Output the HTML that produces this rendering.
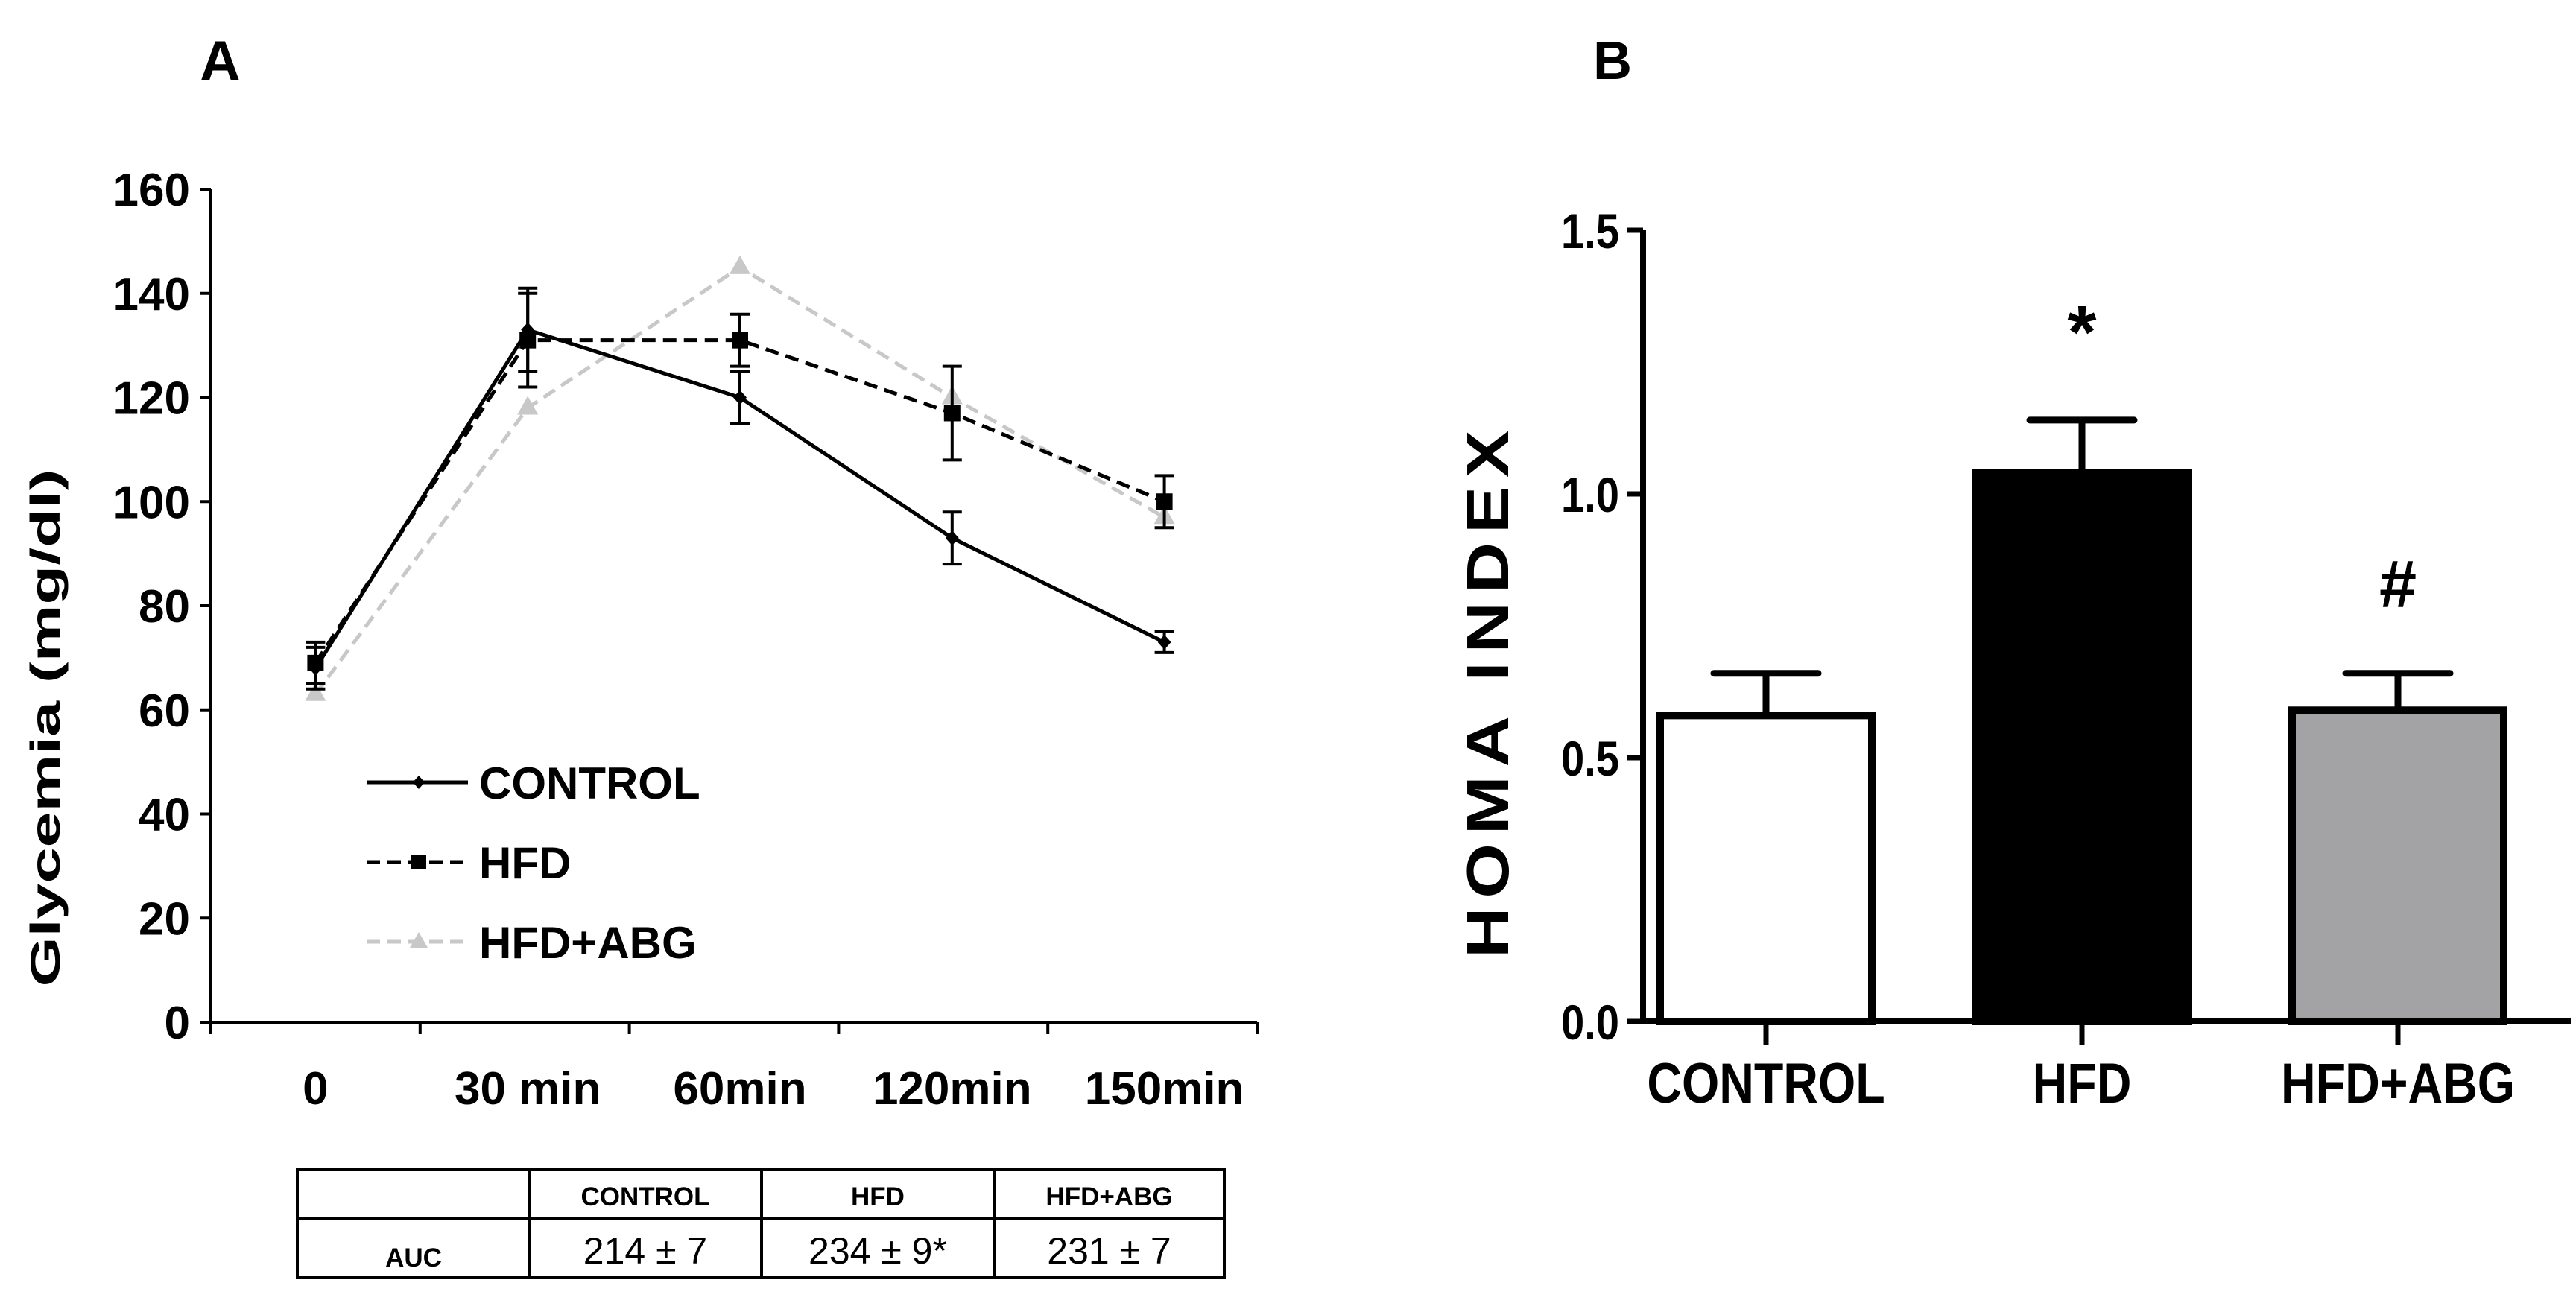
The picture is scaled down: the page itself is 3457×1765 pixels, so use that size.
<!DOCTYPE html>
<html><head><meta charset="utf-8"><style>
html,body{margin:0;padding:0;background:#fff}
svg{display:block}
text{font-family:"Liberation Sans",sans-serif}
</style></head><body>
<svg id="s" width="3457" height="1765" viewBox="0 0 3457 1765" xmlns="http://www.w3.org/2000/svg">
<text x="268" y="108" font-size="76" font-weight="bold">A</text>
<text x="2138" y="106" font-size="72" font-weight="bold">B</text>
<g id="ga"></g><g id="gb"></g>
</svg>
<script>
const NS="http://www.w3.org/2000/svg";
function mk(p,t,a,txt){const e=document.createElementNS(NS,t);for(const k in a)e.setAttribute(k,a[k]);if(txt!==undefined)e.textContent=txt;p.appendChild(e);return e;}

// Panel A data
const timeLabels=["0","30 min","60min","120min","150min"];
const yTicksA=[0,20,40,60,80,100,120,140,160];
const controlMean=[68,133,120,93,73];
const controlErr=[4,8,5,5,2];
const hfdMean=[69,131,131,117,100];
const hfdErr=[4,9,5,9,5];
const abgMean=[63,118,145,120,97];
const aucGroups=["CONTROL","HFD","HFD+ABG"];
const aucValues=["214 ± 7","234 ± 9*","231 ± 7"];

// Panel B data
const homaGroups=["CONTROL","HFD","HFD+ABG"];
const homaMean=[0.58,1.04,0.59];
const homaErr=[0.08,0.10,0.07];
const homaFill=["#ffffff","#000000","#a3a3a6"];
const homaMarks=["","*","#"];
const yTicksB=["0.0","0.5","1.0","1.5"];

const ga=document.getElementById('ga');
const ax0=283, ax1=1687, ay0=1372, ay1=254;
const yA=v=>ay0-(v/160)*(ay0-ay1);
const xA=i=>ax0+(ax1-ax0)/5*(i+0.5)+ i*4;
let e;
e=mk(ga,'line',{x1:ax0,y1:ay1,x2:ax0,y2:ay0,stroke:'#000','stroke-width':4});


e=mk(ga,'line',{x1:ax0,y1:ay0,x2:ax1,y2:ay0,stroke:'#000','stroke-width':4});


yTicksA.forEach(v=>{
 mk(ga,'line',{x1:ax0-14,y1:yA(v),x2:ax0,y2:yA(v),stroke:'#000','stroke-width':4});
 e=mk(ga,'text',{x:ax0-28,y:yA(v)+22,'font-size':62,'font-weight':'bold','text-anchor':'end'},v);
 
 
});
for(let i=0;i<=5;i++) mk(ga,'line',{x1:ax0+(ax1-ax0)/5*i,y1:ay0,x2:ax0+(ax1-ax0)/5*i,y2:ay0+16,stroke:'#000','stroke-width':4});
timeLabels.forEach((l,i)=>{
 e=mk(ga,'text',{x:xA(i),y:1482,'font-size':62,'font-weight':'bold','text-anchor':'middle'},l);
 
 
});
e=mk(ga,'text',{x:0,y:0,'font-size':56,'font-weight':'bold','text-anchor':'middle',textLength:695,lengthAdjust:'spacingAndGlyphs',transform:'translate(80,977) rotate(-90)'},'Glycemia (mg/dl)');



function series(mean,err,stroke,dash,marker,name){
 const g=mk(ga,'g',{});
 
 
 mk(g,'polyline',{points:mean.map((v,i)=>xA(i)+','+yA(v)).join(' '),fill:'none',stroke:stroke,'stroke-width':5,'stroke-dasharray':dash});
 mean.forEach((v,i)=>{
  if(err){const t=yA(v+err[i]),b=yA(v-err[i]);
   mk(g,'path',{d:`M${xA(i)},${t}V${b}M${xA(i)-13},${t}h26M${xA(i)-13},${b}h26`,stroke:'#000','stroke-width':4,fill:'none'});}
  const x=xA(i),y=yA(v);
  if(marker==='d') mk(g,'path',{d:`M${x},${y-10}L${x+9},${y}L${x},${y+10}L${x-9},${y}Z`,fill:stroke});
  else if(marker==='s') mk(g,'rect',{x:x-11,y:y-11,width:22,height:22,fill:stroke});
  else mk(g,'path',{d:`M${x},${y-16}L${x+14},${y+9}L${x-14},${y+9}Z`,fill:stroke});
 });
}
series(abgMean,null,'#c8c8c8','18 10','t','series-hfd-abg');
series(hfdMean,hfdErr,'#000','18 10','s','series-hfd');
series(controlMean,controlErr,'#000','none','d','series-control');

const leg=[["CONTROL","#000","none","d"],["HFD","#000","18 10","s"],["HFD+ABG","#c8c8c8","18 10","t"]];
leg.forEach((l,i)=>{
 const y=1050+i*107;
 const g=mk(ga,'g',{});
 
 
 mk(g,'line',{x1:492,y1:y,x2:628,y2:y,stroke:l[1],'stroke-width':5,'stroke-dasharray':l[2]});
 const x=562;
 if(l[3]==='d') mk(g,'path',{d:`M${x},${y-9}L${x+8},${y}L${x},${y+9}L${x-8},${y}Z`,fill:l[1]});
 else if(l[3]==='s') mk(g,'rect',{x:x-10,y:y-10,width:20,height:20,fill:l[1]});
 else mk(g,'path',{d:`M${x},${y-13}L${x+12},${y+8}L${x-12},${y+8}Z`,fill:l[1]});
 mk(g,'text',{x:643,y:y+22,'font-size':60,'font-weight':'bold'},l[0]);
});

// AUC table
const tb=mk(ga,'g',{});


const cx=[399,710,1022,1334,1643];
mk(tb,'rect',{x:399,y:1570,width:1244,height:145,fill:'none',stroke:'#000','stroke-width':4});
mk(tb,'line',{x1:399,y1:1636,x2:1643,y2:1636,stroke:'#000','stroke-width':4});
for(let i=1;i<4;i++) mk(tb,'line',{x1:cx[i],y1:1570,x2:cx[i],y2:1715,stroke:'#000','stroke-width':4});
aucGroups.forEach((g,i)=>{
 e=mk(tb,'text',{x:(cx[i+1]+cx[i+2])/2,y:1618,'font-size':35,'font-weight':'bold','text-anchor':'middle'},g);
 
 
 e=mk(tb,'text',{x:(cx[i+1]+cx[i+2])/2,y:1696,'font-size':50,'text-anchor':'middle'},aucValues[i]);
 
 
});
e=mk(tb,'text',{x:555,y:1700,'font-size':35,'font-weight':'bold','text-anchor':'middle'},'AUC');



// Panel B
const gb=document.getElementById('gb');
const bx0=2205,bx1=3450,by0=1371,by1=309;
const yB=v=>by0-(v/1.5)*(by0-by1);
const xB=i=>2370+i*424;
const bw=284;
e=mk(gb,'path',{d:`M${bx0},${by1}V${by0}H${bx1}`,fill:'none',stroke:'#000','stroke-width':8});


yTicksB.forEach(t=>{
 const v=parseFloat(t);
 mk(gb,'line',{x1:bx0-22,y1:yB(v),x2:bx0,y2:yB(v),stroke:'#000','stroke-width':7});
 e=mk(gb,'text',{x:bx0-32,y:yB(v)+24,'font-size':66,'font-weight':'bold','text-anchor':'end',transform:`translate(${bx0-32},0) scale(0.85,1) translate(${-(bx0-32)},0)`},t);
 
 
});
homaGroups.forEach((g,i)=>{
 const x=xB(i),top=yB(homaMean[i]),et=yB(homaMean[i]+homaErr[i]);
 mk(gb,'path',{d:`M${x},${top}V${et}M${x-70},${et}h140`,stroke:'#000','stroke-width':9,fill:'none','stroke-linecap':'round'});
 e=mk(gb,'rect',{x:x-bw/2,y:top,width:bw,height:by0-top,fill:homaFill[i],stroke:'#000','stroke-width':10});
 
 
 mk(gb,'line',{x1:x,y1:by0,x2:x,y2:by0+32,stroke:'#000','stroke-width':7});
 e=mk(gb,'text',{x:x,y:1480,'font-size':76,'font-weight':'bold','text-anchor':'middle',transform:`translate(${x},0) scale(0.85,1) translate(${-x},0)`},g);
 
 
 if(homaMarks[i]){
  e=mk(gb,'text',{x:x,y:homaMarks[i]==='*'?480:815,'font-size':homaMarks[i]==='*'?100:90,'font-weight':'bold','text-anchor':'middle'},homaMarks[i]);
  
  
 }
});
e=mk(gb,'text',{x:0,y:0,'font-size':80,'font-weight':'bold','text-anchor':'middle','letter-spacing':'10',textLength:720,lengthAdjust:'spacingAndGlyphs',transform:'translate(2024,926) rotate(-90)'},'HOMA INDEX');


</script>
</body></html>
